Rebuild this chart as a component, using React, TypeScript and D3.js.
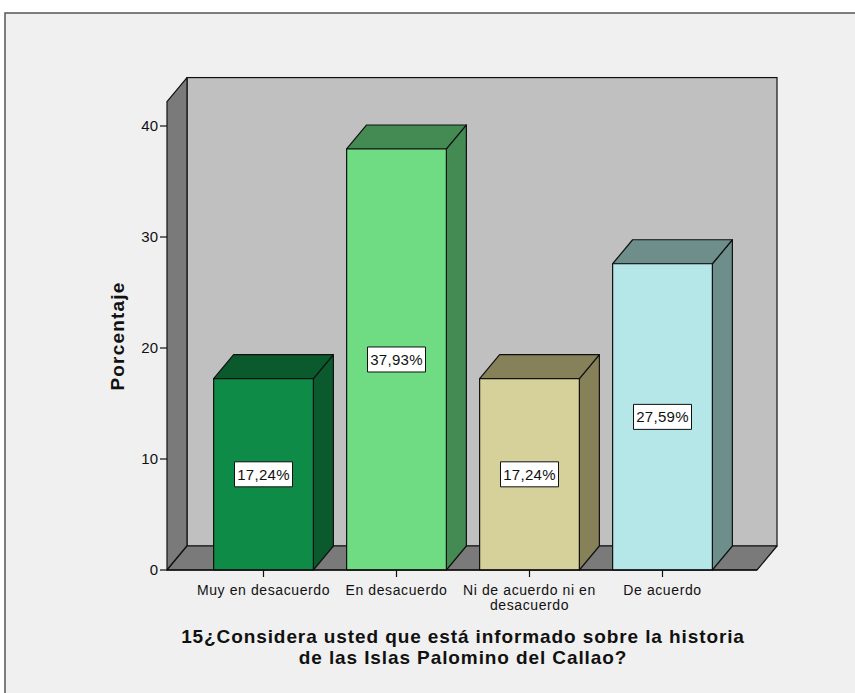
import React from "react";
import * as d3 from "d3";

// Response categories and percentages
const categories = [
  "Muy en desacuerdo",
  "En desacuerdo",
  "Ni de acuerdo ni en desacuerdo",
  "De acuerdo",
];
const categoryLines = [
  ["Muy en desacuerdo"],
  ["En desacuerdo"],
  ["Ni de acuerdo ni en", "desacuerdo"],
  ["De acuerdo"],
];
const percentages = [17.24, 37.93, 17.24, 27.59];
const valueLabels = ["17,24%", "37,93%", "17,24%", "27,59%"];
const yTicks = [0, 10, 20, 30, 40];
const frontColors = ["#0f8b48", "#6fdc84", "#d6d09b", "#b5e6e8"];
const shadeColors = ["#0a5a2e", "#438a53", "#868159", "#6e8e8c"];
const titleLines = [
  "15¿Considera usted que está informado sobre la historia",
  "de las Islas Palomino del Callao?",
];
const yAxisTitle = "Porcentaje";

const W = 855;
const H = 693;
const FONT = "'Liberation Sans', Arial, sans-serif";

// plot layout (front plane) and 3D depth offset
const plotLeft = 167;
const plotRight = 757;
const floorY = 570;
const dx = 20;
const dy = 24;
const wallMax = 42.2;

export default function App() {
  const y = d3.scaleLinear().domain([0, 40]).range([floorY, 126]);
  const x = d3
    .scaleBand<string>()
    .domain(categories)
    .range([197, 729])
    .paddingInner(0.25)
    .paddingOuter(0.125);
  const bw = x.bandwidth();
  const wallTop = y(wallMax);

  const pts = (p: [number, number][]) => p.map((q) => q.join(",")).join(" ");

  return (
    <svg
      width={W}
      height={H}
      style={{ position: "absolute", left: 0, top: 0, display: "block" }}
      fontFamily={FONT}
    >
      <rect x={0} y={0} width={W} height={H} fill="#ffffff" />
      {/* chart frame */}
      <rect x={5} y={13} width={W + 20} height={H + 20} fill="#f0f0f0" stroke="#555" strokeWidth={1.5} />

      {/* back wall */}
      <rect
        x={plotLeft + dx}
        y={wallTop - dy}
        width={plotRight - plotLeft}
        height={floorY - wallTop}
        fill="#c0c0c0"
        stroke="#111"
        strokeWidth={1.2}
      />
      {/* left wall */}
      <polygon
        points={pts([
          [plotLeft, wallTop],
          [plotLeft + dx, wallTop - dy],
          [plotLeft + dx, floorY - dy],
          [plotLeft, floorY],
        ])}
        fill="#7a7a7a"
        stroke="#111"
        strokeWidth={1.2}
        strokeLinejoin="round"
      />
      {/* floor */}
      <polygon
        points={pts([
          [plotLeft, floorY],
          [plotLeft + dx, floorY - dy],
          [plotRight + dx, floorY - dy],
          [plotRight, floorY],
        ])}
        fill="#7a7a7a"
        stroke="#111"
        strokeWidth={1.2}
        strokeLinejoin="round"
      />

      {/* y axis ticks */}
      {yTicks.map((t) => (
        <g key={t}>
          <line x1={160} x2={plotLeft} y1={y(t)} y2={y(t)} stroke="#111" strokeWidth={1.2} />
          <text x={158} y={y(t)} dy="0.36em" textAnchor="end" fontSize={15} fill="#111">
            {t}
          </text>
        </g>
      ))}

      {/* bars */}
      {categories.map((c, i) => {
        const x0 = x(c) as number;
        const x1 = x0 + bw;
        const top = y(percentages[i]);
        const bot = y(0);
        const mid = (top + bot) / 2;
        const cx = x0 + bw / 2;
        return (
          <g key={c} stroke="#111" strokeWidth={1.2} strokeLinejoin="round">
            <polygon
              points={pts([
                [x1, top],
                [x1 + dx, top - dy],
                [x1 + dx, bot - dy],
                [x1, bot],
              ])}
              fill={shadeColors[i]}
            />
            <polygon
              points={pts([
                [x0, top],
                [x0 + dx, top - dy],
                [x1 + dx, top - dy],
                [x1, top],
              ])}
              fill={shadeColors[i]}
            />
            <rect x={x0} y={top} width={bw} height={bot - top} fill={frontColors[i]} />
            <rect x={cx - 29} y={mid - 12.5} width={58} height={25} fill="#fff" strokeWidth={1} />
            <text
              x={cx}
              y={mid}
              dy="0.36em"
              textAnchor="middle"
              fontSize={15}
              letterSpacing={0.3}
              fill="#111"
              stroke="none"
            >
              {valueLabels[i]}
            </text>
          </g>
        );
      })}

      {/* front floor edge */}
      <line x1={plotLeft} x2={plotRight} y1={floorY} y2={floorY} stroke="#111" strokeWidth={1.4} />

      {/* x axis ticks and labels */}
      {categories.map((c, i) => {
        const cx = (x(c) as number) + bw / 2;
        return (
          <g key={c}>
            <line x1={cx} x2={cx} y1={floorY} y2={floorY + 7} stroke="#111" strokeWidth={1.2} />
            {categoryLines[i].map((ln, j) => (
              <text
                key={j}
                x={cx}
                y={595 + j * 15}
                textAnchor="middle"
                fontSize={14}
                letterSpacing={0.6}
                fill="#111"
              >
                {ln}
              </text>
            ))}
          </g>
        );
      })}

      {/* axis titles */}
      <text
        transform={`translate(124,336) rotate(-90)`}
        textAnchor="middle"
        fontSize={19}
        fontWeight="bold"
        letterSpacing={1.2}
        fill="#111"
      >
        {yAxisTitle}
      </text>
      {titleLines.map((t, i) => (
        <text
          key={i}
          x={463}
          y={643 + i * 21}
          textAnchor="middle"
          fontSize={19}
          fontWeight="bold"
          letterSpacing={0.9}
          fill="#111"
        >
          {t}
        </text>
      ))}
    </svg>
  );
}
